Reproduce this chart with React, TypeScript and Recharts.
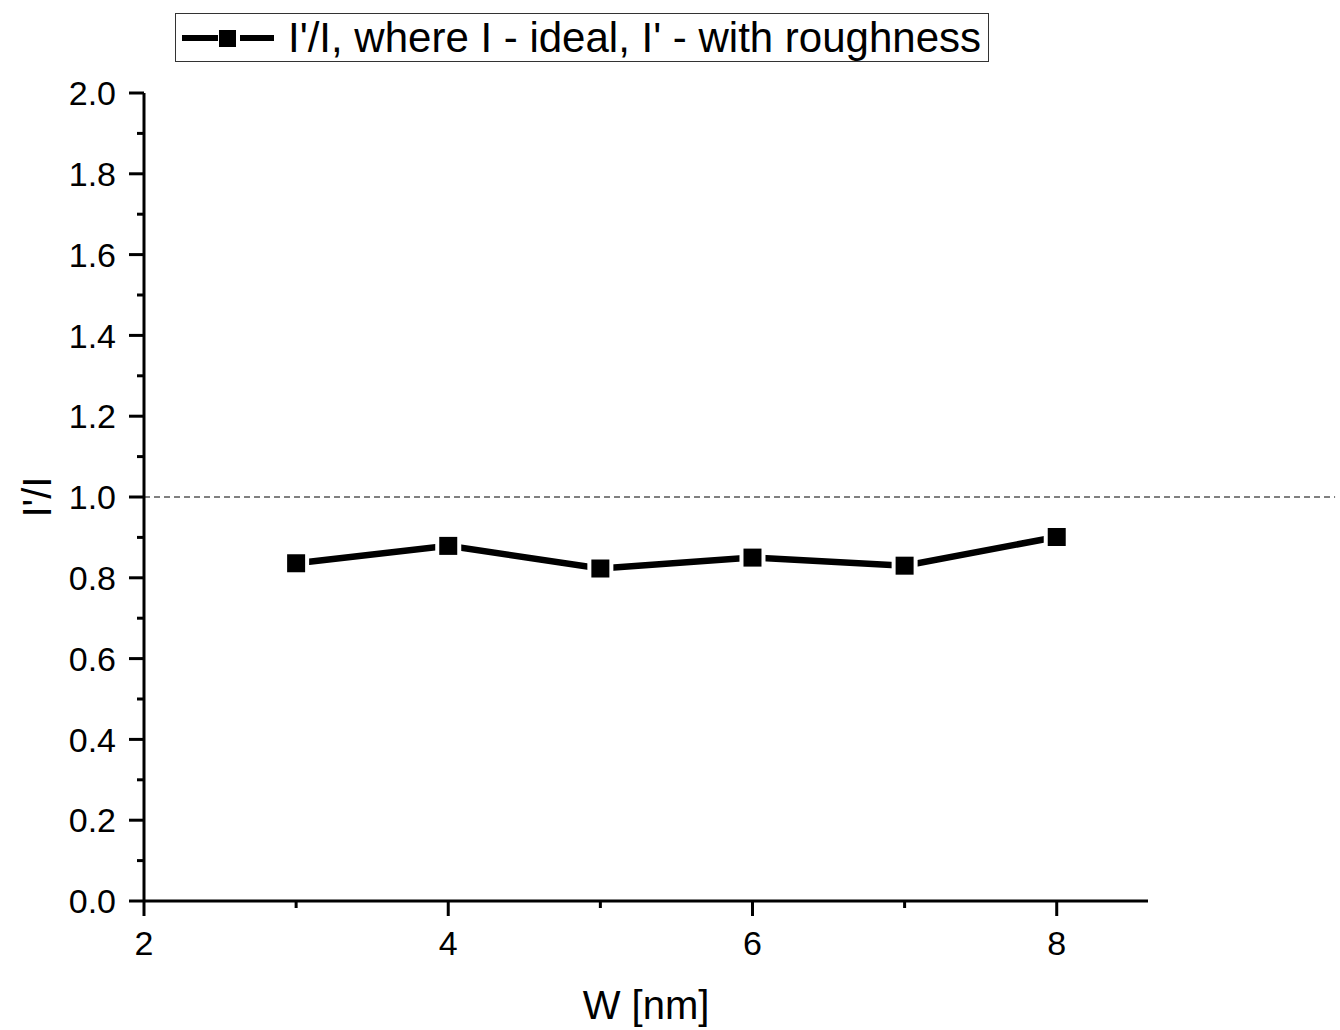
import React from 'react';
import { LineChart, Line, XAxis, YAxis, ReferenceLine, Legend } from 'recharts';

// Measured ratio of current with roughness to ideal current, per width W
const widths = [3, 4, 5, 6, 7, 8];
const ratios = [0.836, 0.879, 0.823, 0.85, 0.83, 0.901];

const xTicks = [2, 3, 4, 5, 6, 7, 8];
const xMajorTicks = [2, 4, 6, 8];
const yTicks = [0, 0.1, 0.2, 0.3, 0.4, 0.5, 0.6, 0.7, 0.8, 0.9, 1.0, 1.1, 1.2, 1.3, 1.4, 1.5, 1.6, 1.7, 1.8, 1.9, 2.0];
const yMajorTicks = [0, 0.2, 0.4, 0.6, 0.8, 1.0, 1.2, 1.4, 1.6, 1.8, 2.0];

const seriesName = "I'/I, where I - ideal, I' - with roughness";
const xTitle = 'W [nm]';
const yTitle = "I'/I";
const referenceLevel = 1.0;

const data = widths.map((w, i) => ({ w, r: ratios[i] }));

const FONT = '"Liberation Sans", Arial, sans-serif';
const TICK_FONT = 34;
const TITLE_FONT = 40;

const isMajor = (list: number[], v: number) => list.some((m) => Math.abs(m - v) < 1e-6);

const XTick = (props: any) => {
  const { x, y, payload } = props;
  const major = isMajor(xMajorTicks, payload.value);
  return (
    <g>
      <line x1={x} x2={x} y1={y} y2={y + (major ? 15 : 7)} stroke="#000" strokeWidth={3} />
      {major && (
        <text x={x} y={y + 54} textAnchor="middle" fontSize={TICK_FONT} fontFamily={FONT} fill="#000">
          {payload.value}
        </text>
      )}
    </g>
  );
};

const YTick = (props: any) => {
  const { x, y, payload } = props;
  const major = isMajor(yMajorTicks, payload.value);
  return (
    <g>
      <line x1={x - (major ? 15 : 7)} x2={x} y1={y} y2={y} stroke="#000" strokeWidth={3} />
      {major && (
        <text x={x - 28} y={y} dy="0.36em" textAnchor="end" fontSize={TICK_FONT} fontFamily={FONT} fill="#000">
          {Number(payload.value).toFixed(1)}
        </text>
      )}
    </g>
  );
};

const SquareDot = (props: any) => {
  const { cx, cy } = props;
  if (cx == null || cy == null) return null;
  return (
    <g>
      <rect x={cx - 13} y={cy - 13} width={26} height={26} fill="#fff" />
      <rect x={cx - 9} y={cy - 9} width={18} height={18} fill="#000" />
    </g>
  );
};

const LegendBox = () => (
  <div
    style={{
      display: 'inline-flex',
      alignItems: 'center',
      border: '1px solid #333',
      background: '#fff',
      height: 49,
      padding: '0 7px 0 2px',
      fontFamily: FONT,
      fontSize: 42,
      lineHeight: '49px',
      color: '#000',
      whiteSpace: 'nowrap',
      boxSizing: 'border-box',
    }}
  >
    <svg width={100} height={24} style={{ marginRight: 10 }}>
      <line x1={4} x2={40} y1={12} y2={12} stroke="#000" strokeWidth={6} />
      <rect x={41} y={4} width={17} height={17} fill="#000" />
      <line x1={62} x2={96} y1={12} y2={12} stroke="#000" strokeWidth={6} />
    </svg>
    <span>{seriesName}</span>
  </div>
);

const YTitle = (props: any) => {
  const vb = props.viewBox || {};
  const cx = (vb.x || 0) + 37;
  const cy = (vb.y || 0) + (vb.height || 0) / 2;
  return (
    <text
      x={cx}
      y={cy}
      transform={`rotate(-90 ${cx} ${cy})`}
      textAnchor="middle"
      dominantBaseline="central"
      fontSize={TITLE_FONT}
      fontFamily={FONT}
      fill="#000"
    >
      {yTitle}
    </text>
  );
};

export default function App() {
  return (
    <div style={{ position: 'absolute', left: 0, top: 0, width: 1340, height: 1030, background: '#fff' }}>
      <LineChart
        width={1340}
        height={1030}
        data={data}
        margin={{ top: 93, right: 192, bottom: 0, left: 0 }}
        style={{ fontFamily: FONT }}
      >
        <XAxis
          dataKey="w"
          type="number"
          domain={[2, 8.6]}
          ticks={xTicks}
          interval={0}
          height={129}
          tickSize={0}
          tickMargin={0}
          tickLine={false}
          tick={<XTick />}
          axisLine={{ stroke: '#000', strokeWidth: 3 }}
          label={{
            value: xTitle,
            position: 'insideBottom',
            offset: 11,
            fontSize: TITLE_FONT,
            fill: '#000',
            fontFamily: FONT,
          }}
        />
        <YAxis
          type="number"
          domain={[0, 2]}
          ticks={yTicks}
          interval={0}
          width={144}
          tickSize={0}
          tickMargin={0}
          tickLine={false}
          tick={<YTick />}
          axisLine={{ stroke: '#000', strokeWidth: 3 }}
          label={<YTitle />}
        />
        <ReferenceLine
          segment={[
            { x: 2, y: referenceLevel },
            { x: 9.83, y: referenceLevel },
          ]}
          ifOverflow="visible"
          stroke="#000"
          strokeWidth={1}
          strokeDasharray="6 4"
        />
        <Line
          type="linear"
          dataKey="r"
          name={seriesName}
          stroke="#000"
          strokeWidth={6.5}
          dot={<SquareDot />}
          activeDot={false}
          isAnimationActive={false}
        />
        <Legend
          layout="horizontal"
          verticalAlign="middle"
          align="center"
          wrapperStyle={{ left: 175, top: 13, width: 'auto' }}
          content={() => <LegendBox />}
        />
      </LineChart>
    </div>
  );
}
